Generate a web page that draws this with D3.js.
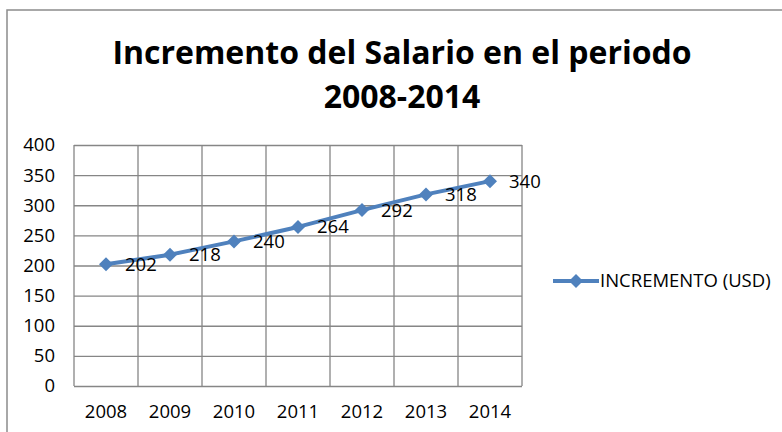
<!DOCTYPE html>
<html>
<head>
<meta charset="utf-8">
<script src="https://cdn.jsdelivr.net/npm/d3@7"></script>
<style>
  body { margin: 0; background: #fff; }
  svg text { font-family: "Open Sans", "Noto Sans", sans-serif; fill: #000; }
  .title { font-weight: bold; font-size: 32px; }
  .tick text { font-size: 18.5px; }
  .dataLabel { font-size: 18.5px; }
  .legendText { font-size: 18.5px; }
</style>
</head>
<body>
<svg id="chart" width="782" height="432"></svg>
<script>

const years = ["2008", "2009", "2010", "2011", "2012", "2013", "2014"]
const salary = [202, 218, 240, 264, 292, 318, 340]
const yTicks = [0, 50, 100, 150, 200, 250, 300, 350, 400]
const seriesName = "INCREMENTO (USD)"
const titleLines = ["Incremento del Salario en el periodo", "2008-2014"]

const blue = "#4F81BD"
const grid = "#868686"

const svg = d3.select("#chart")

// outer frame, only left and top edges show in the shot
svg.append("rect")
  .attr("x", 7)
  .attr("y", 10)
  .attr("width", 900)
  .attr("height", 600)
  .attr("fill", "none")
  .attr("stroke", "#8c8c8c")
  .attr("stroke-width", 1.5)

svg.append("g")
  .selectAll("text")
  .data(titleLines)
  .join("text")
  .attr("class", "title")
  .attr("x", 402)
  .attr("y", (d, i) => 64 + i * 44)
  .attr("text-anchor", "middle")
  .text(d => d)

const plot = { left: 74, right: 522, top: 145, bottom: 386 }

const x = d3.scaleBand()
  .domain(years)
  .range([plot.left, plot.right])

const y = d3.scaleLinear()
  .domain([0, 400])
  .range([plot.bottom, plot.top])

// horizontal grid + y labels
const yAxis = svg.append("g")
  .attr("transform", `translate(${plot.left},0)`)
  .call(d3.axisLeft(y)
    .tickValues(yTicks)
    .tickSize(-(plot.right - plot.left))
    .tickPadding(19))

yAxis.select(".domain").remove()
yAxis.selectAll(".tick line")
  .attr("stroke", grid)
  .attr("stroke-width", 1.3)

// vertical grid at band edges
svg.append("g")
  .selectAll("line")
  .data(years.concat(["end"]))
  .join("line")
  .attr("x1", d => d == "end" ? plot.right : x(d))
  .attr("x2", d => d == "end" ? plot.right : x(d))
  .attr("y1", plot.top)
  .attr("y2", plot.bottom)
  .attr("stroke", grid)
  .attr("stroke-width", 1.3)

// x labels
const xAxis = svg.append("g")
  .attr("transform", `translate(0,${plot.bottom})`)
  .call(d3.axisBottom(x).tickSize(0).tickPadding(19))

xAxis.select(".domain").remove()

const cx = d => x(d) + x.bandwidth() / 2

const line = d3.line()
  .x((d, i) => cx(years[i]))
  .y(d => y(d))

svg.append("path")
  .datum(salary)
  .attr("d", line)
  .attr("fill", "none")
  .attr("stroke", blue)
  .attr("stroke-width", 4)
  .attr("stroke-linejoin", "round")

const diamond = "M0,-7L7,0L0,7L-7,0Z"

svg.append("g")
  .selectAll("path")
  .data(salary)
  .join("path")
  .attr("d", diamond)
  .attr("transform", (d, i) => `translate(${cx(years[i])},${y(d)})`)
  .attr("fill", blue)

svg.append("g")
  .selectAll("text")
  .data(salary)
  .join("text")
  .attr("class", "dataLabel")
  .attr("x", (d, i) => cx(years[i]) + 19)
  .attr("y", d => y(d))
  .attr("dy", "0.35em")
  .text(d => d)

// legend
const legend = svg.append("g").attr("transform", "translate(553,281)")

legend.append("line")
  .attr("x1", 0)
  .attr("x2", 46)
  .attr("stroke", blue)
  .attr("stroke-width", 4)

legend.append("path")
  .attr("d", diamond)
  .attr("transform", "translate(23,0)")
  .attr("fill", blue)

legend.append("text")
  .attr("class", "legendText")
  .attr("x", 47)
  .attr("dy", "0.35em")
  .text(seriesName)

</script>
</body>
</html>
